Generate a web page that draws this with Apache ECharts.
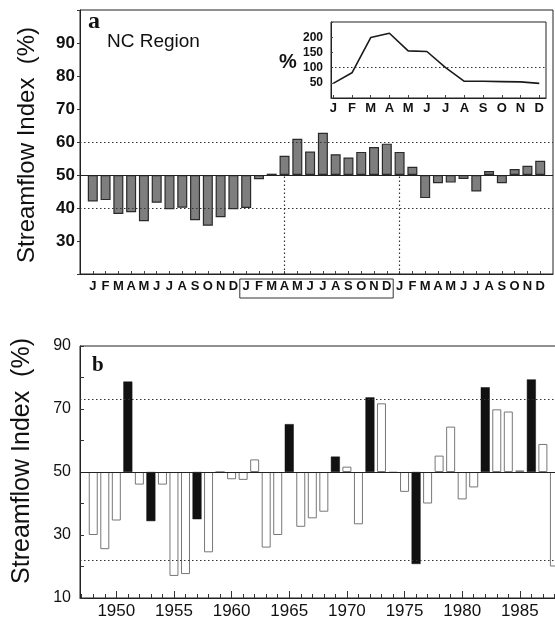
<!DOCTYPE html>
<html>
<head>
<meta charset="utf-8">
<script src="https://cdn.jsdelivr.net/npm/echarts@6/dist/echarts.min.js"></script>
<style>
  html, body { margin: 0; padding: 0; background: #fff; }
  #chart { width: 555px; height: 622px; }
</style>
</head>
<body>
<div id="chart"></div>
<script>
// ---- data ----
const base = 50
const monthLetters = ['J', 'F', 'M', 'A', 'M', 'J', 'J', 'A', 'S', 'O', 'N', 'D']
// panel a: NC region, 36 consecutive months
const ncIndex = [42.0, 42.4, 38.2, 38.7, 36.0, 41.6, 39.6, 40.1, 36.3, 34.6, 37.2, 39.6,
  40.0, 48.7, 50.4, 55.8, 61.0, 57.1, 62.8, 56.3, 55.3, 57.0, 58.5, 59.5,
  57.0, 52.5, 43.0, 47.5, 47.7, 48.8, 45.0, 51.2, 47.5, 51.8, 52.8, 54.3]
const refMonths = [15, 24]
const dottedA = [40, 60]
// inset: mean monthly flow (%)
const insetFlow = [48, 83, 199, 213, 155, 153, 100, 55, 55, 54, 53, 48]
const insetRef = 100
// panel b: yearly index
const years = [1948, 1949, 1950, 1951, 1952, 1953, 1954, 1955, 1956, 1957,
  1958, 1959, 1960, 1961, 1962, 1963, 1964, 1965, 1966, 1967,
  1968, 1969, 1970, 1971, 1972, 1973, 1974, 1975, 1976, 1977,
  1978, 1979, 1980, 1981, 1982, 1983, 1984, 1985, 1986, 1987, 1988]
const yearIndex = [30, 25.5, 34.6, 78.7, 46, 34.4, 46, 17.0, 17.6, 35,
  24.5, 50, 47.7, 47.5, 54, 26, 30, 65.2, 32.6, 35.3,
  37.4, 54.9, 51.7, 33.4, 73.7, 71.8, 49.8, 43.7, 20.8, 40,
  55.2, 64.4, 41.3, 45.1, 76.9, 69.9, 69.2, 50.5, 79.4, 58.9, 20]
const blackYears = [1951, 1953, 1957, 1965, 1969, 1972, 1976, 1982, 1986]
const dottedB = [73, 22]
const yearLabels = [1950, 1955, 1960, 1965, 1970, 1975, 1980, 1985]
const yearTicks = [1947, 1948, 1949, 1950, 1951, 1952, 1953, 1954, 1955, 1956, 1957, 1958,
  1959, 1960, 1961, 1962, 1963, 1964, 1965, 1966, 1967, 1968, 1969, 1970, 1971,
  1972, 1973, 1974, 1975, 1976, 1977, 1978, 1979, 1980, 1981, 1982, 1983, 1984,
  1985, 1986, 1987, 1988, 1989, 1990]

const ink = '#111'
const sans = 'Liberation Sans'
const monthPos = ncIndex.map((v, i) => i)
const insetPos = insetFlow.map((v, i) => i)

const dotted = { color: '#333', width: 1.2, type: [1.5, 2.5] }
const solid = { color: '#222', width: 1.2, type: 'solid' }

const chart = echarts.init(document.getElementById('chart'), null, { renderer: 'canvas' })

const option = {
  animation: false,
  backgroundColor: '#fff',
  grid: [
    { left: 80, top: 10, width: 473, height: 264, show: true, borderColor: '#222', borderWidth: 1, outerBoundsMode: 'none' },
    { left: 331, top: 22, width: 215, height: 76, show: true, borderColor: '#222', borderWidth: 1, outerBoundsMode: 'none' },
    { left: 80, top: 346, width: 509, height: 252, show: true, borderColor: '#222', borderWidth: 1, outerBoundsMode: 'none' }
  ],
  xAxis: [
    {
      gridIndex: 0, type: 'value', min: -1, max: 36,
      axisLine: { onZero: false, lineStyle: { color: '#222' } },
      axisTick: { customValues: monthPos, inside: true, length: 3, lineStyle: { color: '#444' } },
      axisLabel: {
        customValues: monthPos, formatter: v => monthLetters[v % 12],
        color: ink, fontFamily: sans, fontWeight: 'bold', fontSize: 13, margin: 6
      },
      splitLine: { show: false }
    },
    {
      gridIndex: 1, type: 'value', min: -0.12, max: 11.36,
      axisLine: { onZero: false, lineStyle: { color: '#222' } },
      axisTick: { customValues: insetPos, inside: true, length: 3, lineStyle: { color: '#444' } },
      axisLabel: {
        customValues: insetPos, formatter: v => monthLetters[v],
        color: ink, fontFamily: sans, fontWeight: 'bold', fontSize: 13, margin: 4
      },
      splitLine: { show: false }
    },
    {
      gridIndex: 2, type: 'value', min: 1946.85, max: 1991, position: 'bottom',
      axisLine: { onZero: false, lineStyle: { color: '#222' } },
      axisTick: { customValues: yearLabels, inside: true, length: 7, lineStyle: { color: '#333' } },
      axisLabel: {
        customValues: yearLabels, formatter: v => String(v),
        color: ink, fontFamily: sans, fontSize: 17, margin: 5
      },
      splitLine: { show: false }
    },
    {
      gridIndex: 2, type: 'value', min: 1946.85, max: 1991, position: 'bottom', offset: 0,
      axisLine: { show: false, onZero: false },
      axisTick: { customValues: yearTicks, inside: true, length: 4, lineStyle: { color: '#333' } },
      axisLabel: { show: false },
      splitLine: { show: false }
    }
  ],
  yAxis: [
    {
      gridIndex: 0, type: 'value', min: 20 - base, max: 100 - base, interval: 10,
      axisLine: { show: true, onZero: false, lineStyle: { color: '#222' } },
      axisTick: { show: true, length: 3, lineStyle: { color: '#333' } },
      axisLabel: {
        formatter: v => (v + base <= 20 || v + base >= 100) ? '' : String(v + base),
        color: ink, fontFamily: sans, fontWeight: 'bold', fontSize: 17, margin: 5
      },
      splitLine: { show: false }
    },
    {
      gridIndex: 1, type: 'value', min: 0, max: 250, interval: 50,
      axisLine: { show: true, onZero: false, lineStyle: { color: '#222' } },
      axisTick: { show: true, inside: true, length: 2, lineStyle: { color: '#444' } },
      axisLabel: {
        formatter: v => (v === 0 || v === 250) ? '' : String(v),
        color: ink, fontFamily: sans, fontWeight: 'bold', fontSize: 12, margin: 8
      },
      splitLine: { show: false }
    },
    {
      gridIndex: 2, type: 'value', min: 10 - base, max: 90 - base, interval: 10,
      axisLine: { show: true, onZero: false, lineStyle: { color: '#222' } },
      axisTick: { show: true, inside: true, length: 4, lineStyle: { color: '#333' } },
      axisLabel: {
        formatter: v => ((v + base - 10) % 20 === 0) ? String(v + base) : '',
        color: ink, fontFamily: sans, fontSize: 16, margin: 9
      },
      splitLine: { show: false }
    }
  ],
  series: [
    {
      // reference lines, panel a
      type: 'line', xAxisIndex: 0, yAxisIndex: 0, data: [], z: 1,
      markLine: {
        silent: true, symbol: 'none', label: { show: false }, animation: false,
        data: dottedA.map(v => ({ yAxis: v - base, lineStyle: dotted }))
          .concat([{ yAxis: 0, lineStyle: solid }])
          .concat(refMonths.map(m => [
            { coord: [m, 20 - base], lineStyle: dotted },
            { coord: [m, 0] }
          ]))
      }
    },
    {
      type: 'bar', xAxisIndex: 0, yAxisIndex: 0, z: 3, barWidth: 10,
      data: ncIndex.map((v, i) => [i, v - base]),
      itemStyle: { color: '#7e7e7e', borderColor: '#2a2a2a', borderWidth: 1.2 }
    },
    {
      type: 'line', xAxisIndex: 1, yAxisIndex: 1, z: 3,
      data: insetFlow.map((v, i) => [i, v]),
      symbol: 'none', lineStyle: { color: '#1a1a1a', width: 1.6 },
      markLine: {
        silent: true, symbol: 'none', label: { show: false }, animation: false,
        data: [{ yAxis: insetRef, lineStyle: dotted }]
      }
    },
    {
      // reference lines, panel b
      type: 'line', xAxisIndex: 2, yAxisIndex: 2, data: [], z: 1,
      markLine: {
        silent: true, symbol: 'none', label: { show: false }, animation: false,
        data: dottedB.map(v => ({ yAxis: v - base, lineStyle: dotted }))
          .concat([{ yAxis: 0, lineStyle: solid }])
      }
    },
    {
      type: 'bar', xAxisIndex: 2, yAxisIndex: 2, z: 3, barWidth: 9,
      data: years.map((y, i) => ({
        value: [y, yearIndex[i] - base],
        itemStyle: blackYears.includes(y)
          ? { color: '#111', borderColor: '#111', borderWidth: 0.5 }
          : { color: '#fff', borderColor: '#777', borderWidth: 1 }
      }))
    }
  ]
}

chart.setOption(option)

// box around the middle year's month letters
const boxL = chart.convertToPixel({ xAxisIndex: 0 }, 11.5)
const boxR = chart.convertToPixel({ xAxisIndex: 0 }, 23.5)

chart.setOption({
  graphic: [
    { type: 'rect', shape: { x: boxL, y: 279, width: boxR - boxL, height: 19 },
      style: { fill: 'none', stroke: '#333', lineWidth: 1 }, z: 10 },
    { type: 'text', x: 88, y: 22, style: { text: 'a', fill: ink, font: 'bold 24px "Liberation Serif"', textAlign: 'left', verticalAlign: 'middle' }, z: 10 },
    { type: 'text', x: 107, y: 42, style: { text: 'NC Region', fill: ink, font: '19px "Liberation Sans"', textAlign: 'left', verticalAlign: 'middle' }, z: 10 },
    { type: 'text', x: 288, y: 62, style: { text: '%', fill: ink, font: 'bold 20px "Liberation Sans"', textAlign: 'center', verticalAlign: 'middle' }, z: 10 },
    { type: 'text', x: 92, y: 366, style: { text: 'b', fill: ink, font: 'bold 21px "Liberation Serif"', textAlign: 'left', verticalAlign: 'middle' }, z: 10 },
    { type: 'text', x: 27, y: 145, rotation: Math.PI / 2,
      style: { text: 'Streamflow Index  (%)', fill: ink, font: '24px "Liberation Sans"', textAlign: 'center', verticalAlign: 'middle' }, z: 10 },
    { type: 'text', x: 22, y: 461, rotation: Math.PI / 2,
      style: { text: 'Streamflow Index  (%)', fill: ink, font: '25px "Liberation Sans"', textAlign: 'center', verticalAlign: 'middle' }, z: 10 }
  ]
})
</script>
</body>
</html>
